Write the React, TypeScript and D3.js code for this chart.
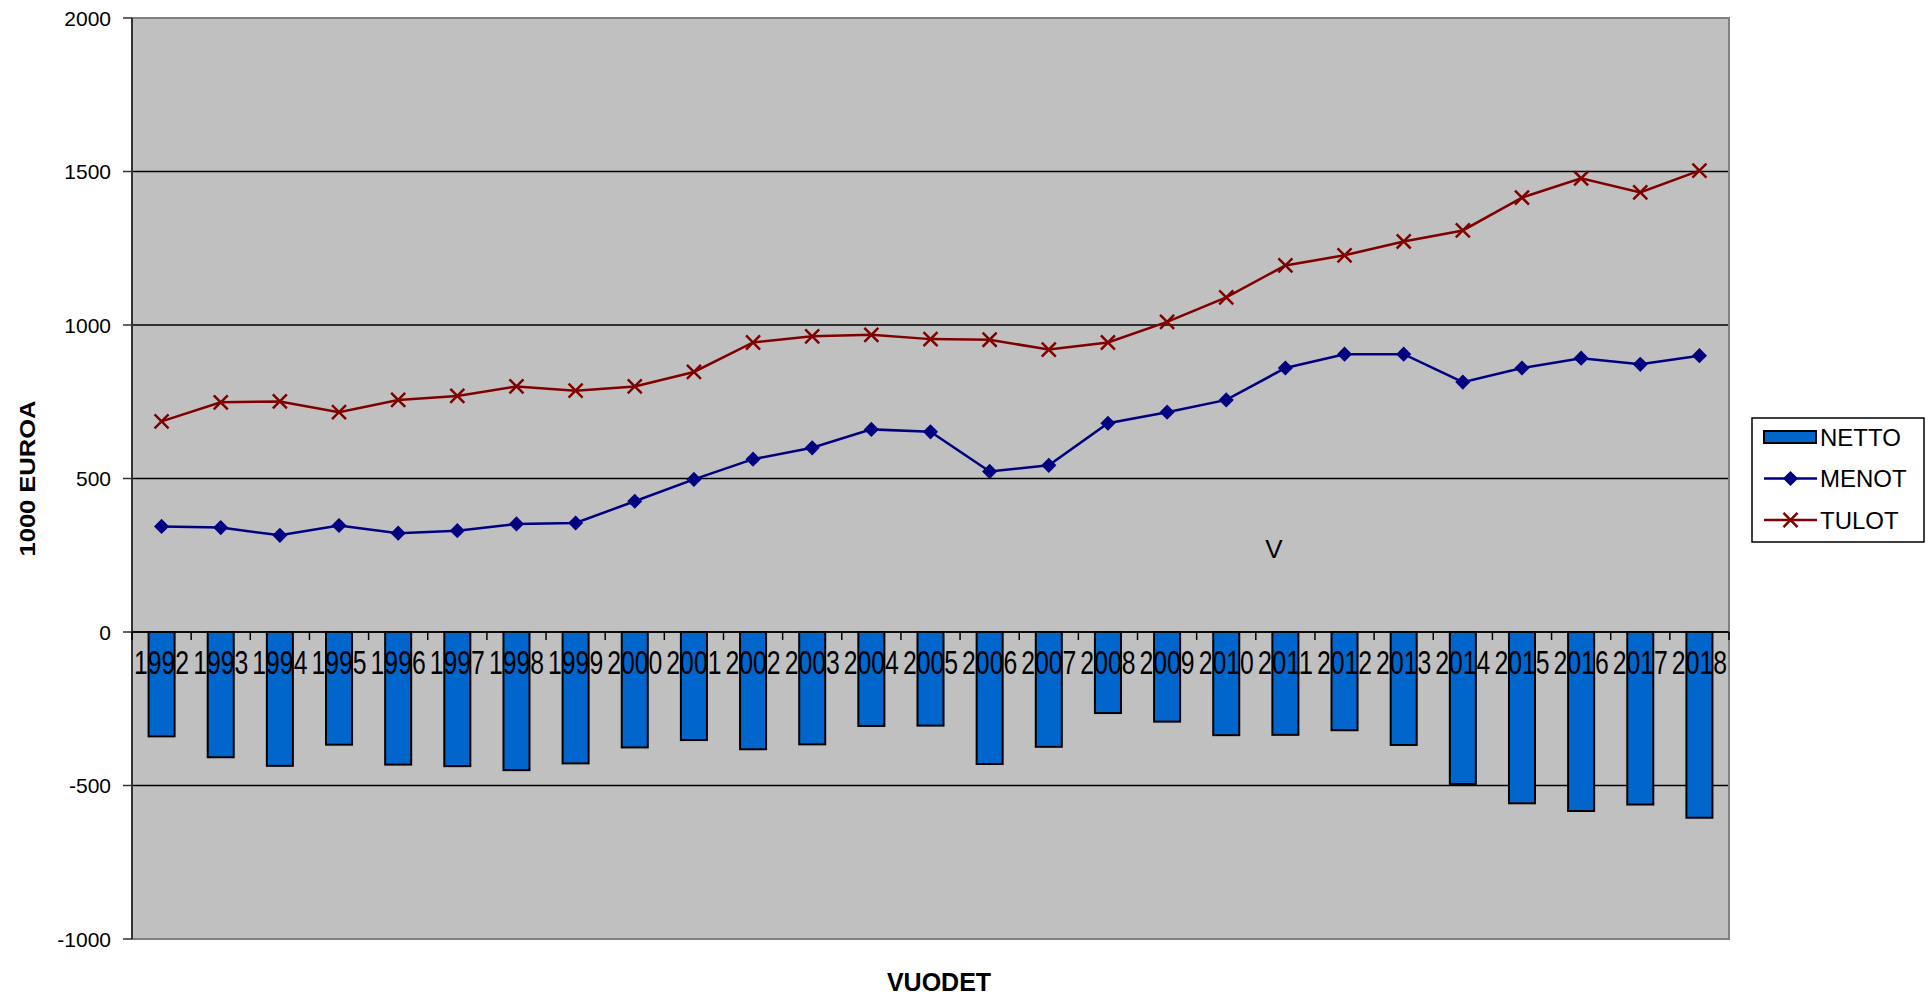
import * as d3 from 'd3';
import { useEffect, useRef } from 'react';

const years = [
    '1992', '1993', '1994', '1995', '1996', '1997', '1998', '1999', '2000',
    '2001', '2002', '2003', '2004', '2005', '2006', '2007', '2008', '2009',
    '2010', '2011', '2012', '2013', '2014', '2015', '2016', '2017', '2018',
];

const netto = [
    -340, -408, -436, -367, -432, -437, -450, -428, -376, -352, -382, -366, -306, -305,
    -430, -374, -264, -292, -336, -335, -320, -368, -495, -558, -583, -562, -605,
];

const menot = [
    344, 340, 315, 347, 322, 330, 352, 355, 426, 497, 563, 600, 660, 652,
    523, 543, 680, 716, 756, 860, 905, 905, 814, 860, 892, 872, 900,
];

const tulot = [
    686, 748, 751, 716, 756, 769, 800, 786, 800, 847, 943, 963, 968, 954,
    952, 920, 943, 1010, 1090, 1194, 1227, 1272, 1308, 1415, 1478, 1432, 1503,
];

const yTicks = [-1000, -500, 0, 500, 1000, 1500, 2000];

const legendItems = ['NETTO', 'MENOT', 'TULOT'];

function App() {
    const svgRef = useRef<SVGSVGElement>(null);
    const width = 1928;
    const height = 996;

    useEffect(() => {
        if (!svgRef.current) return;
        const svg = d3.select(svgRef.current);
        svg.selectAll('*').remove();

        const left = 132;
        const right = 1729;
        const top = 18;
        const bottom = 939;
        const font = '"Liberation Sans", Arial, sans-serif';

        const x = d3.scaleBand<string>().domain(years).range([left, right]).padding(0);
        const y = d3.scaleLinear().domain([-1000, 2000]).range([bottom, top]);
        const cx = (d: string) => (x(d) ?? 0) + x.bandwidth() / 2;

        // plot background
        svg.append('rect')
            .attr('x', left).attr('y', top)
            .attr('width', right - left).attr('height', bottom - top)
            .attr('fill', '#C0C0C0');

        // gridlines
        svg.append('g')
            .selectAll('line')
            .data(yTicks.filter((t) => t > -1000 && t < 2000))
            .join('line')
            .attr('x1', left).attr('x2', right)
            .attr('y1', (d) => y(d)).attr('y2', (d) => y(d))
            .attr('stroke', '#000').attr('stroke-width', 1.5);

        // border
        svg.append('rect')
            .attr('x', left).attr('y', top)
            .attr('width', right - left).attr('height', bottom - top)
            .attr('fill', 'none')
            .attr('stroke', '#808080').attr('stroke-width', 2);

        // left axis
        svg.append('line')
            .attr('x1', left).attr('x2', left)
            .attr('y1', top).attr('y2', bottom)
            .attr('stroke', '#333').attr('stroke-width', 2);

        const yAxis = svg.append('g');
        yAxis.selectAll('line')
            .data(yTicks)
            .join('line')
            .attr('x1', left - 9).attr('x2', left)
            .attr('y1', (d) => y(d)).attr('y2', (d) => y(d))
            .attr('stroke', '#333').attr('stroke-width', 1.5);
        yAxis.selectAll('text')
            .data(yTicks)
            .join('text')
            .attr('x', left - 21)
            .attr('y', (d) => y(d))
            .attr('dy', '0.36em')
            .attr('text-anchor', 'end')
            .attr('font-family', font)
            .attr('font-size', 21)
            .attr('fill', '#000')
            .text((d) => String(d));

        // bars
        const barW = x.bandwidth() * 0.44;
        svg.append('g')
            .selectAll('rect')
            .data(netto)
            .join('rect')
            .attr('x', (_, i) => cx(years[i]) - barW / 2)
            .attr('y', y(0))
            .attr('width', barW)
            .attr('height', (d) => y(d) - y(0))
            .attr('fill', '#0066CC')
            .attr('stroke', '#000')
            .attr('stroke-width', 2);

        // zero axis and category ticks
        svg.append('line')
            .attr('x1', left).attr('x2', right)
            .attr('y1', y(0)).attr('y2', y(0))
            .attr('stroke', '#000').attr('stroke-width', 1.5);
        svg.append('g')
            .selectAll('line')
            .data(d3.range(years.length + 1))
            .join('line')
            .attr('x1', (i) => left + i * x.step())
            .attr('x2', (i) => left + i * x.step())
            .attr('y1', y(0)).attr('y2', y(0) + 8)
            .attr('stroke', '#000').attr('stroke-width', 1.5);

        // category labels on top of the bars
        svg.append('g')
            .selectAll('text')
            .data(years)
            .join('text')
            .attr('x', (d) => cx(d))
            .attr('y', y(0) + 42)
            .attr('text-anchor', 'middle')
            .attr('font-family', font)
            .attr('font-size', 33)
            .attr('textLength', x.step() - 4)
            .attr('lengthAdjust', 'spacingAndGlyphs')
            .attr('fill', '#000')
            .text((d) => d);

        // lines
        const line = d3.line<number>()
            .x((_, i) => cx(years[i]))
            .y((d) => y(d));

        svg.append('path')
            .datum(tulot)
            .attr('d', line)
            .attr('fill', 'none')
            .attr('stroke', '#800000')
            .attr('stroke-width', 2.5);

        svg.append('path')
            .datum(menot)
            .attr('d', line)
            .attr('fill', 'none')
            .attr('stroke', '#000080')
            .attr('stroke-width', 2.5);

        const diamond = d3.symbol().type(d3.symbolSquare).size(115)();
        const cross = d3.symbol().type(d3.symbolX).size(130)();

        svg.append('g')
            .selectAll('path')
            .data(menot)
            .join('path')
            .attr('d', diamond)
            .attr('transform', (d, i) => `translate(${cx(years[i])},${y(d)}) rotate(45)`)
            .attr('fill', '#000080');

        svg.append('g')
            .selectAll('path')
            .data(tulot)
            .join('path')
            .attr('d', cross)
            .attr('transform', (d, i) => `translate(${cx(years[i])},${y(d)})`)
            .attr('fill', 'none')
            .attr('stroke', '#800000')
            .attr('stroke-width', 2.5);

        // stray label
        svg.append('text')
            .attr('x', 1274).attr('y', 558)
            .attr('text-anchor', 'middle')
            .attr('font-family', font)
            .attr('font-size', 26)
            .attr('fill', '#000')
            .text('V');

        // axis titles
        svg.append('text')
            .attr('transform', `translate(35,${(top + bottom) / 2}) rotate(-90)`)
            .attr('text-anchor', 'middle')
            .attr('font-family', font)
            .attr('font-weight', 'bold')
            .attr('font-size', 22)
            .attr('textLength', 156)
            .attr('lengthAdjust', 'spacingAndGlyphs')
            .attr('fill', '#000')
            .text('1000 EUROA');

        svg.append('text')
            .attr('x', 939).attr('y', 991)
            .attr('text-anchor', 'middle')
            .attr('font-family', font)
            .attr('font-weight', 'bold')
            .attr('font-size', 25)
            .attr('fill', '#000')
            .text('VUODET');

        // legend
        const legend = svg.append('g');
        legend.append('rect')
            .attr('x', 1752).attr('y', 418)
            .attr('width', 172).attr('height', 124)
            .attr('fill', '#fff')
            .attr('stroke', '#000').attr('stroke-width', 1.5);

        const rowY = (i: number) => 437 + i * 41.5;
        legend.selectAll('text')
            .data(legendItems)
            .join('text')
            .attr('x', 1820)
            .attr('y', (_, i) => rowY(i))
            .attr('dy', '0.36em')
            .attr('font-family', font)
            .attr('font-size', 24)
            .attr('fill', '#000')
            .text((d) => d);

        legend.append('rect')
            .attr('x', 1764).attr('y', rowY(0) - 6)
            .attr('width', 52).attr('height', 12)
            .attr('fill', '#0066CC')
            .attr('stroke', '#000').attr('stroke-width', 2);

        legend.append('line')
            .attr('x1', 1764).attr('x2', 1817)
            .attr('y1', rowY(1)).attr('y2', rowY(1))
            .attr('stroke', '#000080').attr('stroke-width', 2.5);
        legend.append('path')
            .attr('d', diamond)
            .attr('transform', `translate(1790.5,${rowY(1)}) rotate(45)`)
            .attr('fill', '#000080');

        legend.append('line')
            .attr('x1', 1764).attr('x2', 1817)
            .attr('y1', rowY(2)).attr('y2', rowY(2))
            .attr('stroke', '#800000').attr('stroke-width', 2.5);
        legend.append('path')
            .attr('d', cross)
            .attr('transform', `translate(1790.5,${rowY(2)})`)
            .attr('fill', 'none')
            .attr('stroke', '#800000').attr('stroke-width', 2.5);
    }, []);

    return (
        <svg
            ref={svgRef}
            width={width}
            height={height}
            style={{ position: 'fixed', left: 0, top: 0, background: '#fff' }}
        />
    );
}

export default App;
